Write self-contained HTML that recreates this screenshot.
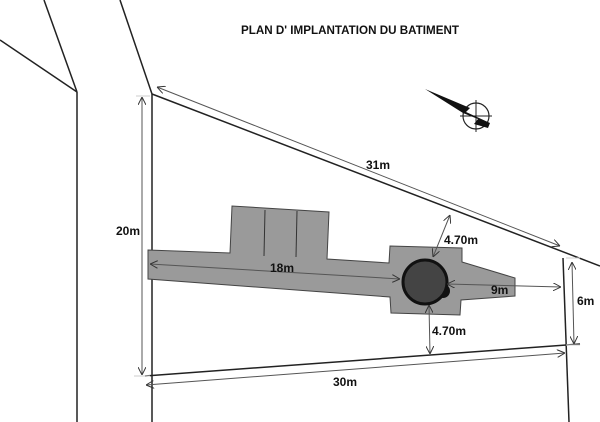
<!DOCTYPE html>
<html><head><style>html,body{margin:0;padding:0;background:#fff;}svg{display:block}</style></head><body>
<svg width="600" height="422" viewBox="0 0 600 422" xmlns="http://www.w3.org/2000/svg">
<defs>
<marker id="a" viewBox="0 0 10 10" refX="10" refY="5" markerWidth="8" markerHeight="8" orient="auto-start-reverse" markerUnits="userSpaceOnUse"><path d="M0,0 L10,5 L0,10" fill="none" stroke="#333" stroke-width="1.2"/></marker>
</defs>
<g stroke="#222" stroke-width="1.5" fill="none">
<line x1="0" y1="40" x2="77" y2="92"/>
<line x1="44" y1="0" x2="77" y2="92"/>
<line x1="77" y1="92" x2="77" y2="422"/>
<line x1="120" y1="0" x2="152" y2="94"/>
<line x1="152" y1="94" x2="152" y2="422"/>
<line x1="152" y1="94" x2="600" y2="266"/>
<line x1="145" y1="376" x2="580" y2="344"/>
<line x1="563" y1="258" x2="569" y2="422"/>
</g>
<polygon points="148,250 230,253 232,206 329,212 327,259 389,263 390,246 462,248 462,262 515,278 515,296 461,300 460,315 391,313 390,297 148,279" fill="#9a9a9a" stroke="#444" stroke-width="1"/>
<g stroke="#333" stroke-width="1"><line x1="265" y1="210" x2="264" y2="256"/><line x1="297" y1="211" x2="296" y2="257"/></g>
<circle cx="443" cy="291" r="7" fill="#111"/>
<circle cx="425" cy="282" r="22" fill="#444" stroke="#111" stroke-width="3"/>
<g stroke="#555" stroke-width="1" fill="none" marker-start="url(#a)" marker-end="url(#a)">
<line x1="142" y1="97" x2="142" y2="375"/>
<line x1="157" y1="87" x2="560" y2="246"/>
<line x1="146" y1="385" x2="565" y2="353"/>
<line x1="572" y1="262" x2="574" y2="344"/>
<line x1="150" y1="264" x2="400" y2="279"/>
<line x1="447" y1="284" x2="561" y2="287"/>
<line x1="433" y1="257" x2="450" y2="215"/>
<line x1="429" y1="305" x2="430" y2="354"/>
</g>
<g stroke="#ccc" stroke-width="1"><line x1="136" y1="96" x2="150" y2="96"/><line x1="134" y1="376" x2="150" y2="376"/><line x1="566" y1="258" x2="580" y2="258"/><line x1="566" y1="345" x2="580" y2="345"/></g>
<!-- compass -->
<g>
<circle cx="476" cy="116" r="13" fill="none" stroke="#222" stroke-width="1.2"/>
<line x1="476" y1="100" x2="476" y2="132" stroke="#222"/><line x1="460" y1="116" x2="492" y2="116" stroke="#222"/>
<polygon points="425,89 470,108 466,112 490,123 488,128 474,124 478,119 463,113" fill="#111"/>
</g>
<g font-family="Liberation Sans, sans-serif" font-weight="bold" fill="#111" font-size="12">
<text x="241" y="34" font-size="11.5" textLength="218" lengthAdjust="spacingAndGlyphs">PLAN D' IMPLANTATION DU BATIMENT</text>
<text x="366" y="169">31m</text>
<text x="116" y="235">20m</text>
<text x="270" y="272">18m</text>
<text x="444" y="244">4.70m</text>
<text x="491" y="294">9m</text>
<text x="577" y="305">6m</text>
<text x="432" y="335">4.70m</text>
<text x="333" y="386">30m</text>
</g>
</svg>
</body></html>
